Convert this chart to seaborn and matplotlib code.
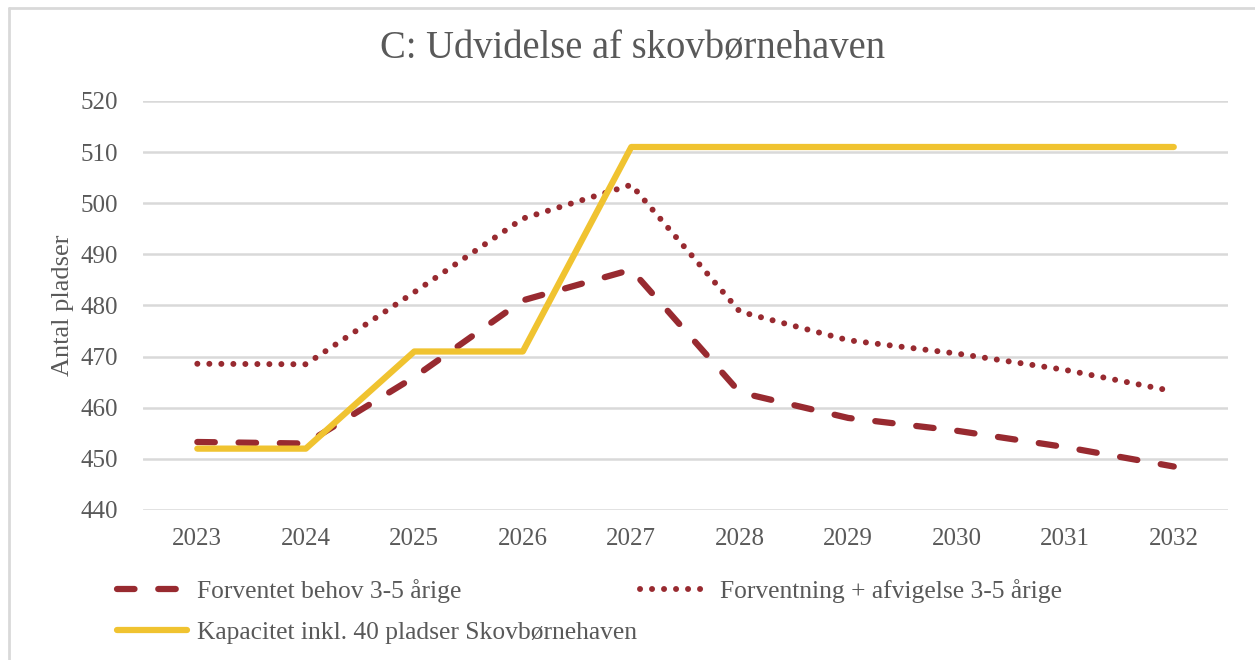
import matplotlib
matplotlib.use("Agg")
import matplotlib.pyplot as plt
import seaborn as sns
import pandas as pd

# data
years = ["2023", "2024", "2025", "2026", "2027", "2028", "2029", "2030", "2031", "2032"]
behov = [453.3, 453.0, 466.0, 481.0, 487.0, 463.0, 458.0, 455.5, 452.3, 448.5]
afvigelse = [468.6, 468.5, 482.6, 497.0, 503.6, 478.8, 473.2, 470.6, 467.4, 463.2]
kapacitet = [452, 452, 471, 471, 511, 511, 511, 511, 511, 511]

lbl_behov = "Forventet behov 3-5 årige"
lbl_afv = "Forventning + afvigelse 3-5 årige"
lbl_kap = "Kapacitet inkl. 40 pladser Skovbørnehaven"

red = "#982A30"
yellow = "#F0C330"
grey_txt = "#595959"

sns.set_style("white")
plt.rcParams['font.family'] = ['Liberation Serif', 'DejaVu Serif']

df = pd.DataFrame({"year": years, "behov": behov, "afv": afvigelse, "kap": kapacitet})

fig = plt.figure(figsize=(12.55, 6.6), dpi=100, facecolor='white')
ax = fig.add_axes([0.114, 0.2273, 0.8645, 0.6197])

# gridlines
for y in range(440, 521, 10):
    ax.axhline(y, color="#d9d9d9", linewidth=1.8, zorder=0)

sns.lineplot(data=df, x="year", y="behov", ax=ax, color=red, linewidth=4.5,
             label=lbl_behov, sort=False)
ax.lines[-1].set_dashes([2.8, 3.8])
ax.lines[-1].set_dash_capstyle('round')
sns.lineplot(data=df, x="year", y="afv", ax=ax, color=red, linewidth=4.3,
             label=lbl_afv, sort=False)
ax.lines[-1].set_dashes([0.01, 2.0])
ax.lines[-1].set_dash_capstyle('round')
sns.lineplot(data=df, x="year", y="kap", ax=ax, color=yellow, linewidth=4.5,
             label=lbl_kap, sort=False)
ax.lines[-1].set_solid_capstyle('round')

ax.set_xlim(-0.5, len(years) - 0.5)
ax.set_ylim(440, 520)
ax.set_yticks(range(440, 521, 10))
ax.tick_params(axis='both', length=0, labelsize=18, labelcolor=grey_txt)
ax.tick_params(axis='x', pad=13)
ax.tick_params(axis='y', pad=18)
for s in ax.spines.values():
    s.set_visible(False)
ax.set_xlabel("")
ax.set_ylabel("Antal pladser", fontsize=19, color=grey_txt, labelpad=5)

fig.text(0.504, 0.925, "C: Udvidelse af skovbørnehaven", ha='center', va='center',
         fontsize=27.8, color=grey_txt)

handles, labels = ax.get_legend_handles_labels()
ax.get_legend().remove()
order = [0, 2, 1]
fig.legend([handles[i] for i in order], [labels[i] for i in order],
           loc='upper left', bbox_to_anchor=(0.085, 0.138), ncol=2, frameon=False,
           fontsize=18.4, labelcolor=grey_txt, handlelength=2.75, handletextpad=0.4,
           columnspacing=0.1, labelspacing=0.7, borderaxespad=0)

# page frame
fig.add_artist(plt.Line2D([0.007, 0.007], [0, 0.988], transform=fig.transFigure,
                          color="#d9d9d9", linewidth=2))
fig.add_artist(plt.Line2D([0.007, 1], [0.988, 0.988], transform=fig.transFigure,
                          color="#d9d9d9", linewidth=2))

fig.savefig("out.png", dpi=100, facecolor='white')
